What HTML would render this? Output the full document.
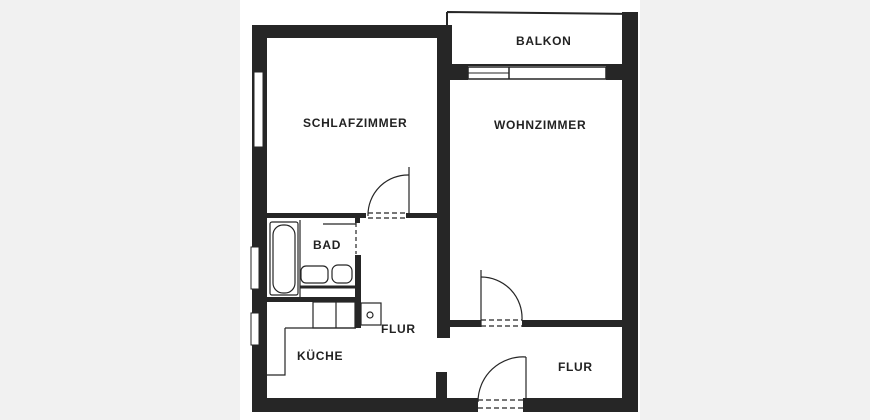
<!DOCTYPE html>
<html><head><style>
html,body{margin:0;padding:0;background:#f1f1f1;}
svg{display:block;}
text{font-family:"Liberation Sans",sans-serif;font-weight:bold;font-size:12px;letter-spacing:0.7px;fill:#222;}
</style></head><body>
<svg width="870" height="420" viewBox="0 0 870 420" xmlns="http://www.w3.org/2000/svg">
<rect x="0" y="0" width="870" height="420" fill="#f1f1f1"/>
<rect x="240" y="0" width="400" height="420" fill="#fff"/>
<g fill="#262626">
<rect x="252" y="25" width="200" height="13"/>
<rect x="252" y="25" width="15" height="387"/>
<rect x="252" y="398" width="226" height="14"/>
<rect x="523" y="398" width="115" height="14"/>
<rect x="622" y="12" width="16" height="400"/>
<rect x="437" y="25" width="15" height="55"/>
<rect x="438" y="65" width="30" height="15"/>
<rect x="606" y="65" width="20" height="15"/>
<rect x="437" y="80" width="13" height="258"/>
<rect x="436" y="372" width="11" height="30"/>
<rect x="266" y="213" width="100" height="5"/>
<rect x="406" y="213" width="32" height="5"/>
<rect x="447" y="320" width="34" height="7"/>
<rect x="522" y="320" width="100" height="7"/>
<rect x="266" y="297" width="94" height="5"/>
<rect x="355" y="255" width="6" height="73"/>
<rect x="355" y="216" width="5" height="7"/>
</g>
<g fill="#fff" stroke="#262626" stroke-width="1">
<rect x="254" y="72" width="9" height="75"/>
<rect x="251" y="247" width="8" height="42"/>
<rect x="251" y="313" width="8" height="32"/>
</g>
<path d="M447 12 L638 14 M447 12 L447 66 M447 65 L622 65" stroke="#262626" stroke-width="2" fill="none"/>
<rect x="468" y="67" width="138" height="12" fill="#fff" stroke="#262626" stroke-width="1.5"/>
<line x1="509" y1="67" x2="509" y2="79" stroke="#262626" stroke-width="1.5"/>
<line x1="468" y1="73" x2="509" y2="73" stroke="#262626" stroke-width="1"/>
<g stroke="#262626" fill="none" stroke-width="1.2">
<line x1="409" y1="167" x2="409" y2="218"/>
<path d="M409 175 A40 40 0 0 0 368 216"/>
<line x1="368" y1="213" x2="408" y2="213" stroke-dasharray="5,3"/>
<line x1="368" y1="218" x2="408" y2="218" stroke-dasharray="5,3"/>
<line x1="481" y1="270" x2="481" y2="327"/>
<path d="M481 277 A41 41 0 0 1 522 320"/>
<line x1="481" y1="320" x2="522" y2="320" stroke-dasharray="5,3"/>
<line x1="481" y1="326" x2="522" y2="326" stroke-dasharray="5,3"/>
<line x1="526" y1="357" x2="526" y2="412"/>
<path d="M526 357 A45 45 0 0 0 478 402"/>
<line x1="478" y1="400" x2="524" y2="400" stroke-dasharray="5,3"/>
<line x1="478" y1="408" x2="524" y2="408" stroke-dasharray="5,3"/>
<line x1="356" y1="223" x2="356" y2="254" stroke-dasharray="4,3"/>
<line x1="323" y1="224" x2="356" y2="224"/>
<rect x="270" y="222" width="28" height="73" rx="2"/>
<rect x="273" y="225" width="22" height="68" rx="10"/>
<rect x="301" y="266" width="27" height="17" rx="5"/>
<rect x="332" y="265" width="20" height="18" rx="6"/>
<line x1="300" y1="287" x2="355" y2="287" stroke-width="3"/>
<line x1="300" y1="220" x2="300" y2="297"/>
<rect x="313" y="302" width="42" height="26"/>
<line x1="336" y1="302" x2="336" y2="328"/>
<path d="M285 328 L356 328 M285 328 L285 375 L266 375"/>
<rect x="361" y="303" width="20" height="22"/>
<circle cx="370" cy="315" r="3"/>
</g>
<text x="516" y="45">BALKON</text>
<text x="303" y="127">SCHLAFZIMMER</text>
<text x="494" y="129">WOHNZIMMER</text>
<text x="313" y="249">BAD</text>
<text x="381" y="333">FLUR</text>
<text x="297" y="360">KÜCHE</text>
<text x="558" y="371">FLUR</text>
</svg>
</body></html>
